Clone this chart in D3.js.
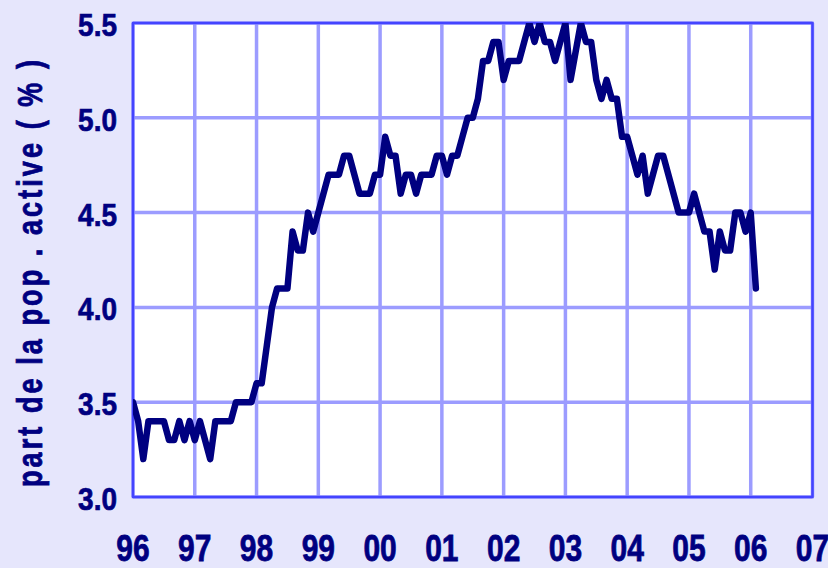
<!DOCTYPE html>
<html>
<head>
<meta charset="utf-8">
<script src="https://cdn.jsdelivr.net/npm/d3@7"></script>
<style>
  html, body { margin: 0; padding: 0; background: #E6E6FC; }
  svg { display: block; }
  text { font-family: "Liberation Sans Narrow", "Arial Narrow", "Liberation Sans", sans-serif; font-weight: bold; fill: #000080; stroke: #000080; stroke-width: 0.6; }
</style>
</head>
<body>
<svg></svg>
<script>
// monthly series, Jan 1996 -> Feb 2006 (share of labour force, %)
let startYear = 1996;
let values = [
  3.5, 3.4, 3.2, 3.4, 3.4, 3.4, 3.4, 3.3, 3.3, 3.4, 3.3, 3.4, // 96
  3.3, 3.4, 3.3, 3.2, 3.4, 3.4, 3.4, 3.4, 3.5, 3.5, 3.5, 3.5, // 97
  3.6, 3.6, 3.8, 4.0, 4.1, 4.1, 4.1, 4.4, 4.3, 4.3, 4.5, 4.4, // 98
  4.5, 4.6, 4.7, 4.7, 4.7, 4.8, 4.8, 4.7, 4.6, 4.6, 4.6, 4.7, // 99
  4.7, 4.9, 4.8, 4.8, 4.6, 4.7, 4.7, 4.6, 4.7, 4.7, 4.7, 4.8, // 00
  4.8, 4.7, 4.8, 4.8, 4.9, 5.0, 5.0, 5.1, 5.3, 5.3, 5.4, 5.4, // 01
  5.2, 5.3, 5.3, 5.3, 5.4, 5.5, 5.4, 5.5, 5.4, 5.4, 5.3, 5.4, // 02
  5.5, 5.2, 5.35, 5.5, 5.4, 5.4, 5.2, 5.1, 5.2, 5.1, 5.1, 4.9, // 03
  4.9, 4.8, 4.7, 4.8, 4.6, 4.7, 4.8, 4.8, 4.7, 4.6, 4.5, 4.5, // 04
  4.5, 4.6, 4.5, 4.4, 4.4, 4.2, 4.4, 4.3, 4.3, 4.5, 4.5, 4.4, // 05
  4.5, 4.1                                                    // 06
];
let yearTicks = [1996, 1997, 1998, 1999, 2000, 2001, 2002, 2003, 2004, 2005, 2006, 2007];
let yearLabels = ["96", "97", "98", "99", "00", "01", "02", "03", "04", "05", "06", "07"];
let valueTicks = [3.0, 3.5, 4.0, 4.5, 5.0, 5.5];
let yTitle = "part de la pop . active ( % )";

let width = 828, height = 568;
let plotLeft = 133, plotRight = 812.5, plotTop = 23, plotBottom = 497;

let svg = d3.select("svg").attr("width", width).attr("height", height);

let x = d3.scaleLinear().domain([1996, 2007]).range([plotLeft, plotRight]);
let y = d3.scaleLinear().domain([3, 5.5]).range([plotBottom, plotTop]);

// plot background
svg.append("rect")
  .attr("x", plotLeft).attr("y", plotTop)
  .attr("width", plotRight - plotLeft).attr("height", plotBottom - plotTop)
  .attr("fill", "#ffffff");

// grid
svg.append("g")
  .selectAll("line")
  .data(yearTicks)
  .enter().append("line")
  .attr("x1", d => x(d)).attr("x2", d => x(d))
  .attr("y1", plotTop).attr("y2", plotBottom)
  .attr("stroke", "#9C9CFF").attr("stroke-width", 3.5);

svg.append("g")
  .selectAll("line")
  .data(valueTicks)
  .enter().append("line")
  .attr("x1", plotLeft).attr("x2", plotRight)
  .attr("y1", d => y(d)).attr("y2", d => y(d))
  .attr("stroke", "#9C9CFF").attr("stroke-width", 3.5);

// frame
svg.append("rect")
  .attr("x", plotLeft).attr("y", plotTop)
  .attr("width", plotRight - plotLeft).attr("height", plotBottom - plotTop)
  .attr("fill", "none")
  .attr("stroke", "#4444FF").attr("stroke-width", 2.5);

svg.append("clipPath").attr("id", "plot")
  .append("rect")
  .attr("x", plotLeft).attr("y", plotTop)
  .attr("width", plotRight - plotLeft).attr("height", plotBottom - plotTop);

let line = d3.line()
  .x((d, i) => x(startYear + i / 12))
  .y(d => y(d));

svg.append("path")
  .datum(values)
  .attr("clip-path", "url(#plot)")
  .attr("d", line)
  .attr("fill", "none")
  .attr("stroke", "#000080")
  .attr("stroke-width", 6.5)
  .attr("stroke-linejoin", "round")
  .attr("stroke-linecap", "round");

// y tick labels
svg.append("g")
  .selectAll("text")
  .data(valueTicks)
  .enter().append("text")
  .attr("transform", d => `translate(117,${y(d) + 13}) scale(1,1.15)`)
  .attr("text-anchor", "end")
  .attr("font-size", 28)
  .text(d => d.toFixed(1));

// x tick labels
svg.append("g")
  .selectAll("text")
  .data(yearTicks)
  .enter().append("text")
  .attr("transform", d => `translate(${x(d)},561) scale(1,1.25)`)
  .attr("text-anchor", "middle")
  .attr("font-size", 30)
  .text((d, i) => yearLabels[i]);

// y title
svg.append("text")
  .attr("transform", "translate(42,273.5) rotate(-90) scale(1,1.3)")
  .attr("text-anchor", "middle")
  .attr("font-size", 27)
  .attr("textLength", 427)
  .attr("lengthAdjust", "spacing")
  .text(yTitle);
</script>
</body>
</html>
